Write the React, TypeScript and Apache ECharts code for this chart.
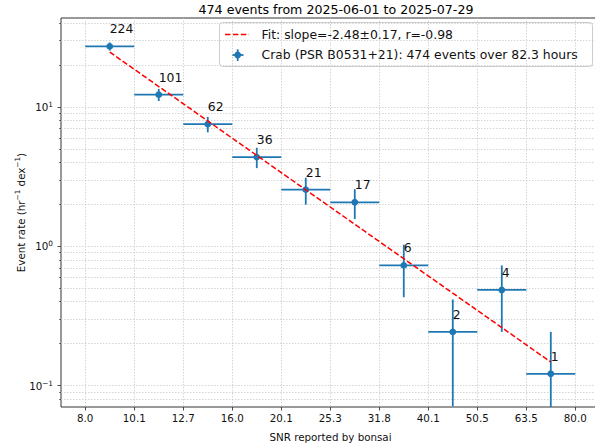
import React, { useEffect, useRef } from 'react';
import * as echarts from 'echarts';

// ---- data ----
const binEdges = [8.0, 10.0715, 12.6797, 15.9628, 20.0958, 25.2982, 31.8479, 40.0942, 50.4755, 63.5446, 80.0];
const tickLabels = ['8.0', '10.1', '12.7', '16.0', '20.1', '25.3', '31.8', '40.1', '50.5', '63.5', '80.0'];
const binCenters = [8.976, 11.3, 14.227, 17.911, 22.549, 28.387, 35.736, 44.989, 56.637, 71.302];
const counts = [224, 101, 62, 36, 21, 17, 6, 2, 4, 1];
const rates = [27.22, 12.27, 7.53, 4.37, 2.55, 2.07, 0.729, 0.243, 0.486, 0.1215];
const rateErrors = [1.819, 1.221, 0.957, 0.729, 0.557, 0.501, 0.298, 0.172, 0.243, 0.1215];
const fitX = [8.976, 71.302];
const fitY = [24.8, 0.1476];
const yMajorTicks = [0.1, 1, 10];
const yMinorTicks = [0.08, 0.09, 0.2, 0.3, 0.4, 0.5, 0.6, 0.7, 0.8, 0.9, 2, 3, 4, 5, 6, 7, 8, 9, 20, 30, 40];

const titleText = '474 events from 2025-06-01 to 2025-07-29';
const fitLabel = 'Fit: slope=-2.48\u00b10.17, r=-0.98';
const dataLabel = 'Crab (PSR B0531+21): 474 events over 82.3 hours';

const X_MIN = 7.139;
const X_MAX = 89.85;
const Y_MIN = 0.0702;
const Y_MAX = 43.55;

const FONT = 'DejaVu Sans';
const BLUE = '#1f77b4';
const TXT = '#111';
const GRID_LINE = { color: '#c9c9c9', width: 0.8, type: [1.5, 1.5] as number[] };

export default function App() {
  const ref = useRef<HTMLDivElement>(null);

  useEffect(() => {
    if (!ref.current) return;
    const chart = echarts.init(ref.current, undefined, { renderer: 'svg' });

    const errData = binCenters.map((c, i) => [c, rates[i], binEdges[i], binEdges[i + 1], rateErrors[i], counts[i]]);

    const supRich = {
      b: { fontSize: 10.3, lineHeight: 12, color: TXT, fontFamily: FONT },
      s: { fontSize: 7.3, lineHeight: 7, verticalAlign: 'top', color: TXT, fontFamily: FONT },
    };

    const option: any = {
      animation: false,
      textStyle: { fontFamily: FONT },
      title: {
        text: titleText,
        left: 331,
        textAlign: 'center',
        top: -2,
        textStyle: { fontSize: 12.6, fontWeight: 'normal', color: '#000', fontFamily: FONT },
      },
      grid: {
        left: 61,
        top: 18,
        width: 539,
        height: 389,
        outerBoundsMode: 'none',
        containLabel: false,
        show: true,
        borderColor: '#333',
        borderWidth: 1,
        backgroundColor: 'transparent',
      },
      xAxis: {
        type: 'log',
        min: X_MIN,
        max: X_MAX,
        logBase: 10,
        name: 'SNR reported by bonsai',
        nameLocation: 'middle',
        nameGap: 25,
        nameTextStyle: { fontSize: 10.3, color: TXT, fontFamily: FONT },
        axisLine: { show: false },
        axisTick: { show: true, customValues: binEdges, length: 3.5, lineStyle: { color: '#222', width: 0.8 } },
        axisLabel: {
          customValues: binEdges,
          margin: 6,
          fontSize: 10.3,
          color: TXT,
          fontFamily: FONT,
          formatter: (v: number) => {
            let best = 0;
            binEdges.forEach((e, i) => {
              if (Math.abs(Math.log(e / v)) < Math.abs(Math.log(binEdges[best] / v))) best = i;
            });
            return tickLabels[best];
          },
        },
        splitLine: { show: true, customValues: binEdges, lineStyle: GRID_LINE },
        minorTick: { show: false },
      },
      yAxis: [
        {
          type: 'log',
          min: Y_MIN,
          max: Y_MAX,
          logBase: 10,
          position: 'left',
          name: 'Event rate (hr{s|\u22121} dex{s|\u22121})',
          nameLocation: 'middle',
          nameGap: 34,
          nameMoveOverlap: false,
          nameTextStyle: {
            fontSize: 10.3,
            lineHeight: 13,
            color: TXT,
            fontFamily: FONT,
            rich: { s: { fontSize: 7.3, lineHeight: 7, verticalAlign: 'top', color: TXT, fontFamily: FONT } },
          },
          axisLine: { show: false },
          axisTick: { show: true, customValues: yMajorTicks, length: 3.5, lineStyle: { color: '#222', width: 0.8 } },
          axisLabel: {
            customValues: yMajorTicks,
            margin: 8,
            formatter: (v: number) => {
              const e = Math.round(Math.log10(v));
              return '{b|10}{s|' + (e < 0 ? '\u2212' + -e : String(e)) + '}';
            },
            rich: supRich,
          },
          splitLine: { show: true, customValues: yMajorTicks, lineStyle: GRID_LINE },
        },
        {
          type: 'log',
          min: Y_MIN,
          max: Y_MAX,
          logBase: 10,
          position: 'left',
          axisLine: { show: false },
          axisTick: { show: true, customValues: yMinorTicks, length: 2, lineStyle: { color: '#222', width: 0.6 } },
          axisLabel: { show: false },
          splitLine: { show: true, customValues: yMinorTicks, lineStyle: GRID_LINE },
        },
      ],
      series: [
        {
          type: 'custom',
          name: dataLabel,
          xAxisIndex: 0,
          yAxisIndex: 0,
          clip: false,
          z: 3,
          data: errData,
          renderItem: (params: any, api: any) => {
            const x = api.value(0);
            const y = api.value(1);
            const x0 = api.value(2);
            const x1 = api.value(3);
            const e = api.value(4);
            const n = api.value(5);
            const p = api.coord([x, y]);
            const pl = api.coord([x0, y]);
            const pr = api.coord([x1, y]);
            const pt = api.coord([x, y + e]);
            const pb = api.coord([x, Math.max(y - e, Y_MIN)]);
            return {
              type: 'group',
              children: [
                { type: 'line', shape: { x1: pl[0], y1: p[1], x2: pr[0], y2: p[1] }, style: { stroke: BLUE, lineWidth: 1.8 } },
                { type: 'line', shape: { x1: p[0], y1: pt[1], x2: p[0], y2: pb[1] }, style: { stroke: BLUE, lineWidth: 1.8 } },
                { type: 'circle', shape: { cx: p[0], cy: p[1], r: 3.4 }, style: { fill: BLUE } },
                {
                  type: 'text',
                  style: {
                    text: String(n),
                    x: p[0],
                    y: p[1] - 17.5,
                    fill: TXT,
                    fontSize: 12.4,
                    fontFamily: FONT,
                    align: 'left',
                    verticalAlign: 'middle',
                  },
                },
              ],
            };
          },
        },
        {
          type: 'line',
          name: fitLabel,
          xAxisIndex: 0,
          yAxisIndex: 0,
          z: 4,
          symbol: 'none',
          data: fitX.map((v, i) => [v, fitY[i]]),
          lineStyle: { color: '#ff0000', width: 1.5, type: [5.5, 2.4] },
        },
      ],
      graphic: [
        {
          type: 'group',
          z: 100,
          children: [
            {
              type: 'rect',
              shape: { x: 219.5, y: 22.5, width: 373, height: 44, r: 3 },
              style: { fill: 'rgba(255,255,255,0.8)', stroke: '#cccccc', lineWidth: 1 },
            },
            {
              type: 'line',
              shape: { x1: 225, y1: 34.5, x2: 249, y2: 34.5 },
              style: { stroke: '#ff0000', lineWidth: 1.5, lineDash: [5.5, 2.4] },
            },
            {
              type: 'text',
              style: { text: fitLabel, x: 261.5, y: 34.5, fill: TXT, fontSize: 12.4, fontFamily: FONT, verticalAlign: 'middle', align: 'left' },
            },
            { type: 'line', shape: { x1: 232, y1: 55, x2: 243.5, y2: 55 }, style: { stroke: BLUE, lineWidth: 1.8 } },
            { type: 'line', shape: { x1: 237.7, y1: 49.3, x2: 237.7, y2: 61 }, style: { stroke: BLUE, lineWidth: 1.8 } },
            { type: 'circle', shape: { cx: 237.7, cy: 55, r: 3.4 }, style: { fill: BLUE } },
            {
              type: 'text',
              style: { text: dataLabel, x: 261.5, y: 54.5, fill: TXT, fontSize: 12.4, fontFamily: FONT, verticalAlign: 'middle', align: 'left' },
            },
          ],
        },
      ],
    };

    chart.setOption(option);
    return () => chart.dispose();
  }, []);

  return <div ref={ref} style={{ position: 'absolute', left: 0, top: 0, width: 595, height: 445 }} />;
}
